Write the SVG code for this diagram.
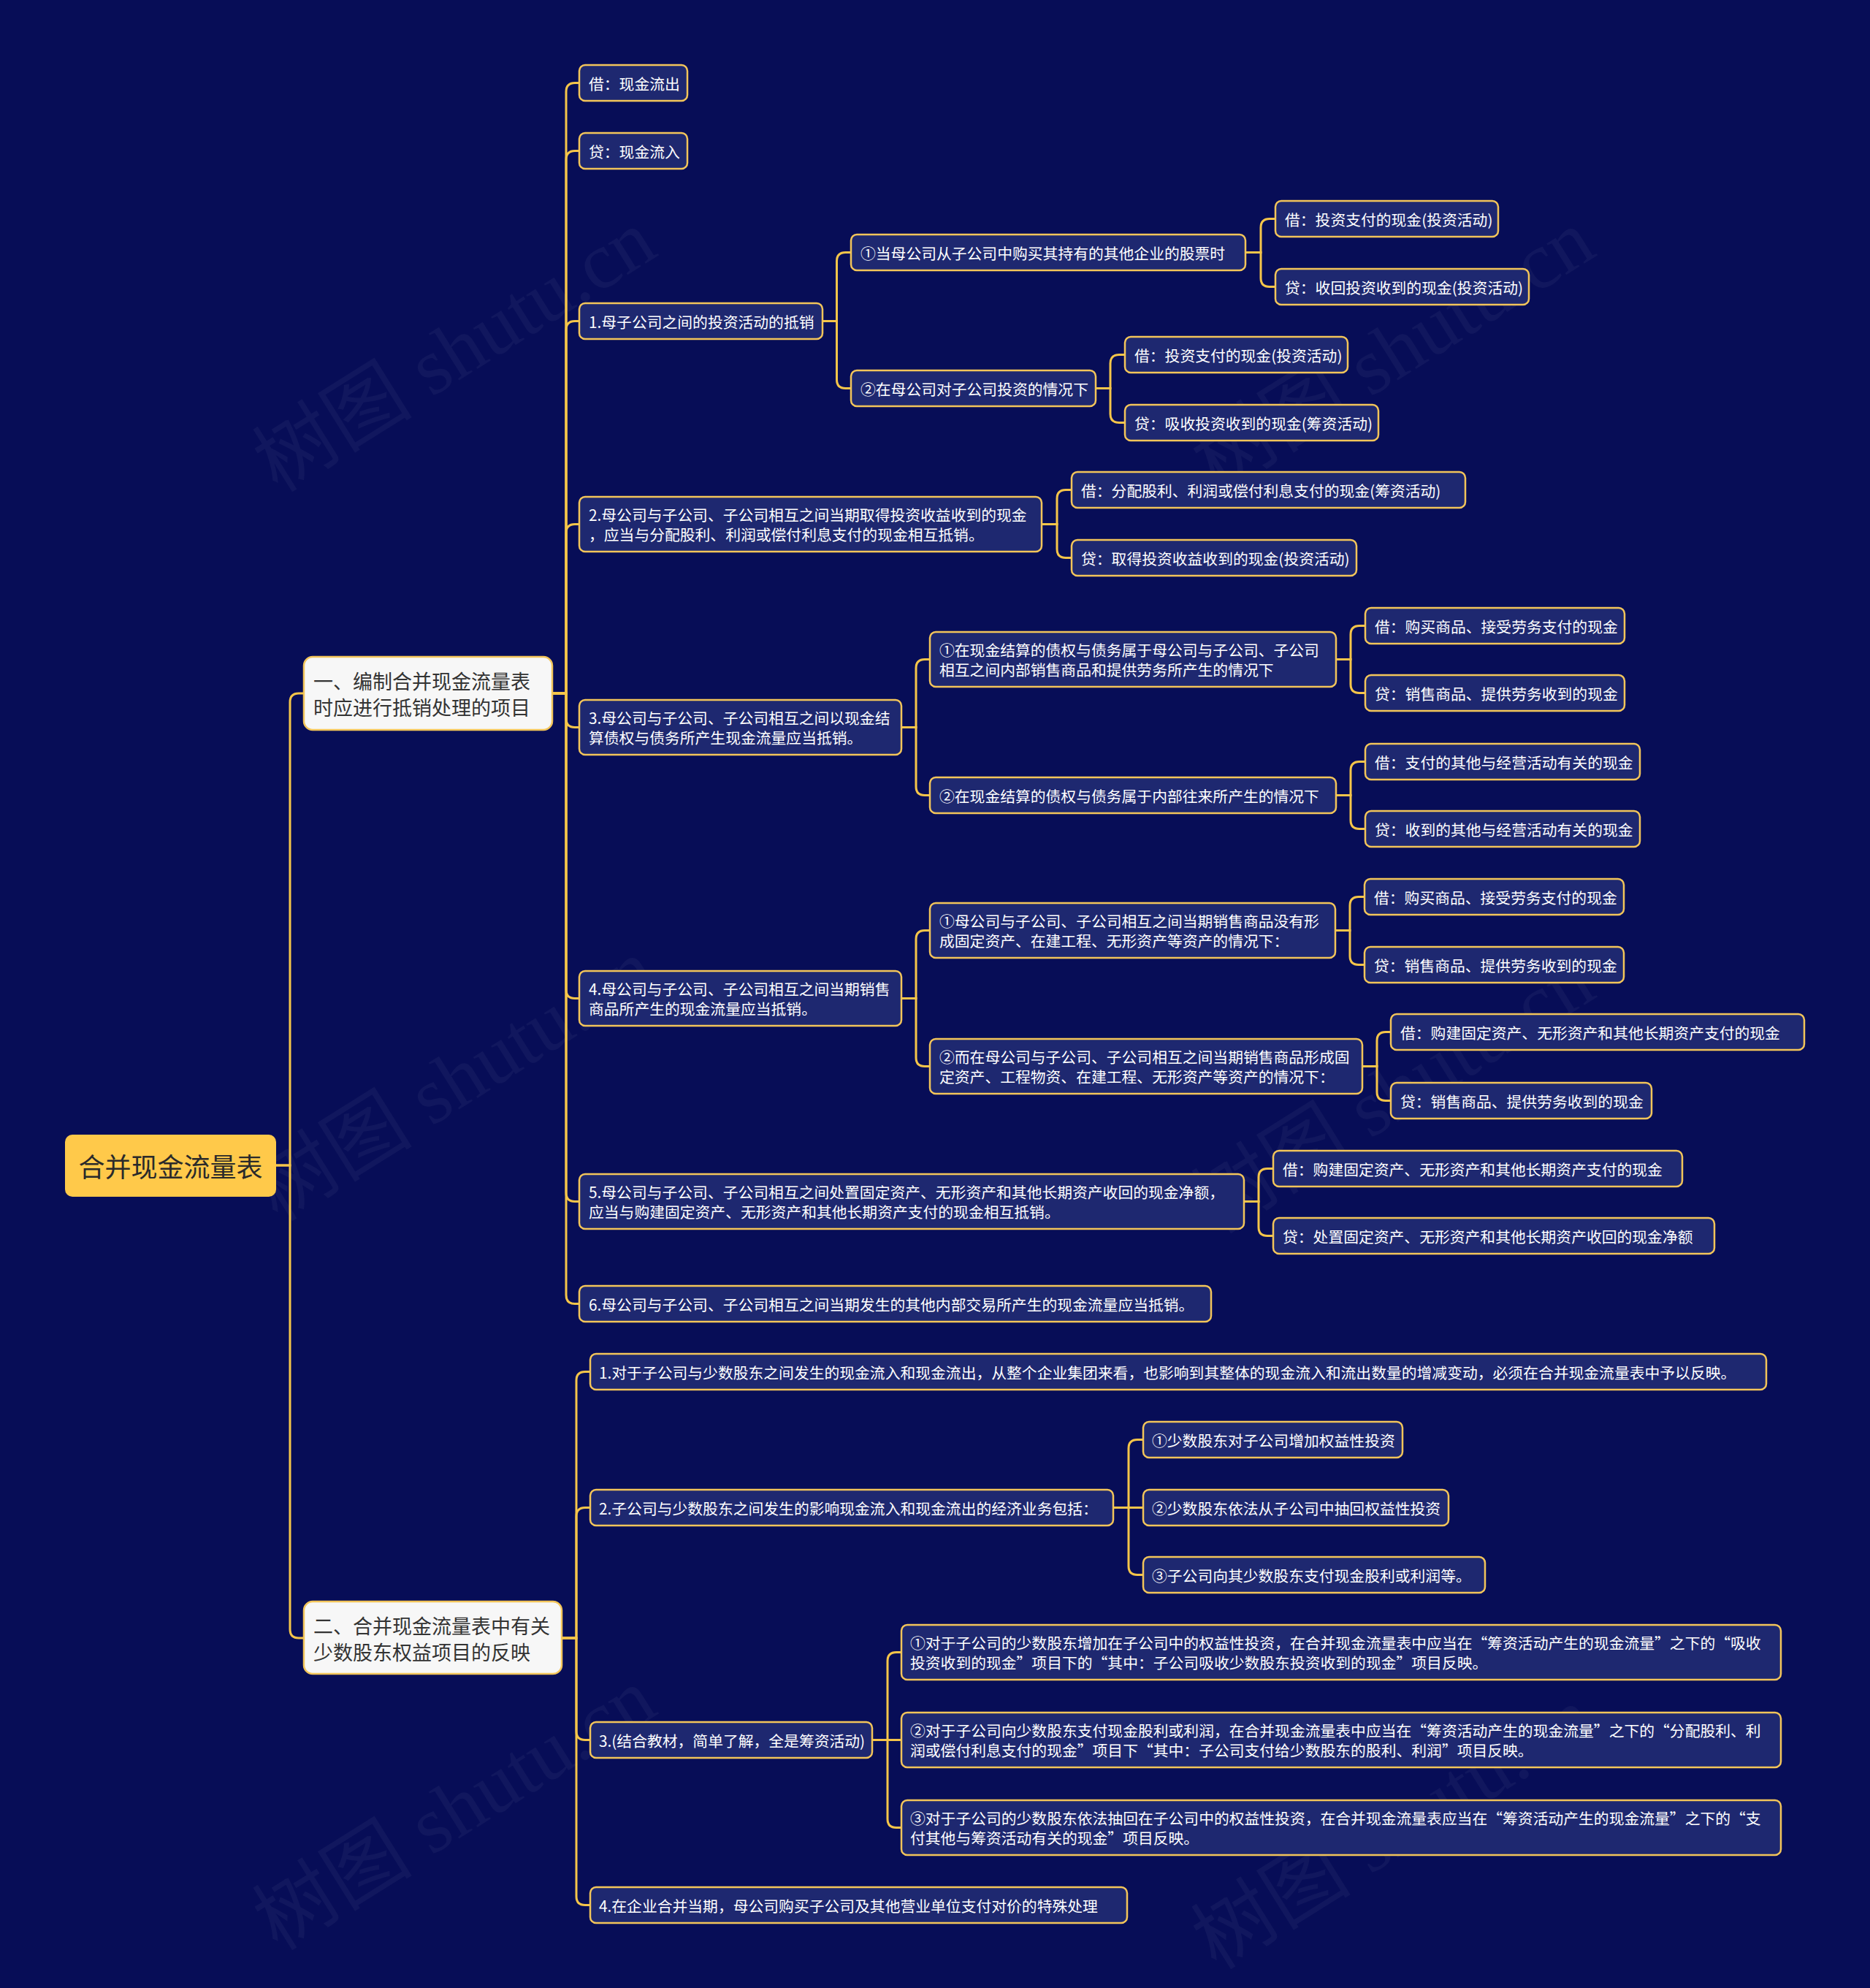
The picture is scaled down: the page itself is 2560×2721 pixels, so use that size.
<svg xmlns="http://www.w3.org/2000/svg" width="2560" height="2721" viewBox="0 0 2560 2721">
<style>
.bg{fill:#070D57}
.wm{font-family:"Liberation Serif","Noto Sans CJK SC",serif;font-size:110px;fill:#ffffff;fill-opacity:0.045}
.n rect{fill:#1E2870;stroke:#F3C55A;stroke-width:2.5}
.n text{font-family:"Noto Sans CJK SC","Microsoft YaHei",sans-serif;font-size:20.8px;fill:#ffffff;dominant-baseline:central}
.l1 rect{fill:#F7F7F7;stroke:#F3C55A;stroke-width:2.5}
.l1 text{font-family:"Noto Sans CJK SC","Microsoft YaHei",sans-serif;font-size:27px;fill:#333333;dominant-baseline:central}
.root rect{fill:#FFC94A}
.root text{font-family:"Noto Sans CJK SC","Microsoft YaHei",sans-serif;font-size:36px;fill:#2A2A2A;dominant-baseline:central;text-anchor:middle}
.c path{fill:none;stroke:#F5C54A;stroke-width:3}
</style>
<rect class="bg" x="0" y="0" width="2560" height="2721"/>
<g id="watermarks">
<text class="wm" transform="translate(642,512) rotate(-32)" text-anchor="middle">树图 shutu.cn</text>
<text class="wm" transform="translate(1927,512) rotate(-32)" text-anchor="middle">树图 shutu.cn</text>
<text class="wm" transform="translate(642,1510) rotate(-32)" text-anchor="middle">树图 shutu.cn</text>
<text class="wm" transform="translate(1927,1527) rotate(-32)" text-anchor="middle">树图 shutu.cn</text>
<text class="wm" transform="translate(642,2508) rotate(-32)" text-anchor="middle">树图 shutu.cn</text>
<text class="wm" transform="translate(1927,2534) rotate(-32)" text-anchor="middle">树图 shutu.cn</text>
</g>
<g id="connectors" class="c">
<path d="M378 1595 H397 V961 Q397 949 409 949 H416"/>
<path d="M378 1595 H397 V2230 Q397 2242 409 2242 H416"/>
<path d="M756 949 H775 V125.5 Q775 113.5 787 113.5 H793"/>
<path d="M756 949 H775 V218.5 Q775 206.5 787 206.5 H793"/>
<path d="M756 949 H775 V451.5 Q775 439.5 787 439.5 H793"/>
<path d="M756 949 H775 V729.5 Q775 717.5 787 717.5 H793"/>
<path d="M756 949 H775 V983.5 Q775 995.5 787 995.5 H793"/>
<path d="M756 949 H775 V1354.5 Q775 1366.5 787 1366.5 H793"/>
<path d="M756 949 H775 V1632.5 Q775 1644.5 787 1644.5 H793"/>
<path d="M756 949 H775 V1772.5 Q775 1784.5 787 1784.5 H793"/>
<path d="M769 2242 H789 V1889.5 Q789 1877.5 801 1877.5 H808"/>
<path d="M769 2242 H789 V2075.5 Q789 2063.5 801 2063.5 H808"/>
<path d="M769 2242 H789 V2369.5 Q789 2381.5 801 2381.5 H808"/>
<path d="M769 2242 H789 V2595.5 Q789 2607.5 801 2607.5 H808"/>
<path d="M1126 439.5 H1145.5 V357.5 Q1145.5 345.5 1157.5 345.5 H1165"/>
<path d="M1126 439.5 H1145.5 V519.5 Q1145.5 531.5 1157.5 531.5 H1165"/>
<path d="M1705 345.5 H1726 V311.5 Q1726 299.5 1738 299.5 H1746"/>
<path d="M1705 345.5 H1726 V380.5 Q1726 392.5 1738 392.5 H1746"/>
<path d="M1500 531.5 H1520 V497.5 Q1520 485.5 1532 485.5 H1540"/>
<path d="M1500 531.5 H1520 V566.5 Q1520 578.5 1532 578.5 H1540"/>
<path d="M1426 717.5 H1447 V682.5 Q1447 670.5 1459 670.5 H1467"/>
<path d="M1426 717.5 H1447 V751.5 Q1447 763.5 1459 763.5 H1467"/>
<path d="M1234 995.5 H1254 V914.5 Q1254 902.5 1266 902.5 H1273"/>
<path d="M1234 995.5 H1254 V1076.5 Q1254 1088.5 1266 1088.5 H1273"/>
<path d="M1829 902.5 H1849 V868.5 Q1849 856.5 1861 856.5 H1869"/>
<path d="M1829 902.5 H1849 V936.5 Q1849 948.5 1861 948.5 H1869"/>
<path d="M1829 1088.5 H1849 V1054.5 Q1849 1042.5 1861 1042.5 H1869"/>
<path d="M1829 1088.5 H1849 V1122.5 Q1849 1134.5 1861 1134.5 H1869"/>
<path d="M1234 1366.5 H1254 V1285.5 Q1254 1273.5 1266 1273.5 H1273"/>
<path d="M1234 1366.5 H1254 V1447.5 Q1254 1459.5 1266 1459.5 H1273"/>
<path d="M1828 1273.5 H1848 V1239.5 Q1848 1227.5 1860 1227.5 H1868"/>
<path d="M1828 1273.5 H1848 V1308.5 Q1848 1320.5 1860 1320.5 H1868"/>
<path d="M1865 1459.5 H1885 V1424.5 Q1885 1412.5 1897 1412.5 H1904"/>
<path d="M1865 1459.5 H1885 V1494.5 Q1885 1506.5 1897 1506.5 H1904"/>
<path d="M1703 1644.5 H1723 V1611.5 Q1723 1599.5 1735 1599.5 H1743"/>
<path d="M1703 1644.5 H1723 V1679.5 Q1723 1691.5 1735 1691.5 H1743"/>
<path d="M1524 2063.5 H1545 V1982.5 Q1545 1970.5 1557 1970.5 H1565"/>
<path d="M1524 2063.5 H1565"/>
<path d="M1524 2063.5 H1545 V2143.5 Q1545 2155.5 1557 2155.5 H1565"/>
<path d="M1194 2381.5 H1215 V2273.5 Q1215 2261.5 1227 2261.5 H1234"/>
<path d="M1194 2381.5 H1234"/>
<path d="M1194 2381.5 H1215 V2489.5 Q1215 2501.5 1227 2501.5 H1234"/>
</g>
<g id="root" class="root"><rect x="89" y="1553" width="289" height="85" rx="10"/><text x="233.5" y="1595">合并现金流量表</text></g>
<g id="node1" class="l1"><rect x="416" y="899" width="340" height="100" rx="12"/><text x="429" y="931">一、编制合并现金流量表</text><text x="429" y="967">时应进行抵销处理的项目</text></g>
<g id="node2" class="l1"><rect x="416" y="2192" width="353" height="99" rx="12"/><text x="429" y="2224">二、合并现金流量表中有关</text><text x="429" y="2260">少数股东权益项目的反映</text></g>

<g id="n1a" class="n"><rect x="793" y="89" width="148" height="49" rx="8"/><text x="806" y="113.5">借：现金流出</text></g>
<g id="n1b" class="n"><rect x="793" y="182" width="148" height="49" rx="8"/><text x="806" y="206.5">贷：现金流入</text></g>
<g id="n1c" class="n"><rect x="793" y="415" width="333" height="49" rx="8"/><text x="806" y="439.5">1.母子公司之间的投资活动的抵销</text></g>
<g id="n1d" class="n"><rect x="793" y="680" width="633" height="75" rx="8"/><text x="806" y="704">2.母公司与子公司、子公司相互之间当期取得投资收益收到的现金</text><text x="806" y="731">，应当与分配股利、利润或偿付利息支付的现金相互抵销。</text></g>
<g id="n1e" class="n"><rect x="793" y="958" width="441" height="75" rx="8"/><text x="806" y="982">3.母公司与子公司、子公司相互之间以现金结</text><text x="806" y="1009">算债权与债务所产生现金流量应当抵销。</text></g>
<g id="n1f" class="n"><rect x="793" y="1329" width="441" height="75" rx="8"/><text x="806" y="1353">4.母公司与子公司、子公司相互之间当期销售</text><text x="806" y="1380">商品所产生的现金流量应当抵销。</text></g>
<g id="n1g" class="n"><rect x="793" y="1607" width="910" height="75" rx="8"/><text x="806" y="1631">5.母公司与子公司、子公司相互之间处置固定资产、无形资产和其他长期资产收回的现金净额，</text><text x="806" y="1658">应当与购建固定资产、无形资产和其他长期资产支付的现金相互抵销。</text></g>
<g id="n1h" class="n"><rect x="793" y="1760" width="865" height="49" rx="8"/><text x="806" y="1784.5">6.母公司与子公司、子公司相互之间当期发生的其他内部交易所产生的现金流量应当抵销。</text></g>

<g id="c1" class="n"><rect x="1165" y="321" width="540" height="49" rx="8"/><text x="1178" y="345.5">①当母公司从子公司中购买其持有的其他企业的股票时</text></g>
<g id="c2" class="n"><rect x="1165" y="507" width="335" height="49" rx="8"/><text x="1178" y="531.5">②在母公司对子公司投资的情况下</text></g>
<g id="c1a" class="n"><rect x="1746" y="275" width="305" height="49" rx="8"/><text x="1759" y="299.5">借：投资支付的现金(投资活动)</text></g>
<g id="c1b" class="n"><rect x="1746" y="368" width="347" height="49" rx="8"/><text x="1759" y="392.5">贷：收回投资收到的现金(投资活动)</text></g>
<g id="c2a" class="n"><rect x="1540" y="461" width="305" height="49" rx="8"/><text x="1553" y="485.5">借：投资支付的现金(投资活动)</text></g>
<g id="c2b" class="n"><rect x="1540" y="554" width="347" height="49" rx="8"/><text x="1553" y="578.5">贷：吸收投资收到的现金(筹资活动)</text></g>
<g id="d1" class="n"><rect x="1467" y="646" width="539" height="49" rx="8"/><text x="1480" y="670.5">借：分配股利、利润或偿付利息支付的现金(筹资活动)</text></g>
<g id="d2" class="n"><rect x="1467" y="739" width="390" height="49" rx="8"/><text x="1480" y="763.5">贷：取得投资收益收到的现金(投资活动)</text></g>
<g id="e1" class="n"><rect x="1273" y="865" width="556" height="75" rx="8"/><text x="1286" y="889">①在现金结算的债权与债务属于母公司与子公司、子公司</text><text x="1286" y="916">相互之间内部销售商品和提供劳务所产生的情况下</text></g>
<g id="e2" class="n"><rect x="1273" y="1064" width="556" height="49" rx="8"/><text x="1286" y="1088.5">②在现金结算的债权与债务属于内部往来所产生的情况下</text></g>
<g id="e1a" class="n"><rect x="1869" y="832" width="355" height="49" rx="8"/><text x="1882" y="856.5">借：购买商品、接受劳务支付的现金</text></g>
<g id="e1b" class="n"><rect x="1869" y="924" width="355" height="49" rx="8"/><text x="1882" y="948.5">贷：销售商品、提供劳务收到的现金</text></g>
<g id="e2a" class="n"><rect x="1869" y="1018" width="376" height="49" rx="8"/><text x="1882" y="1042.5">借：支付的其他与经营活动有关的现金</text></g>
<g id="e2b" class="n"><rect x="1869" y="1110" width="376" height="49" rx="8"/><text x="1882" y="1134.5">贷：收到的其他与经营活动有关的现金</text></g>
<g id="f1" class="n"><rect x="1273" y="1236" width="555" height="75" rx="8"/><text x="1286" y="1260">①母公司与子公司、子公司相互之间当期销售商品没有形</text><text x="1286" y="1287">成固定资产、在建工程、无形资产等资产的情况下：</text></g>
<g id="f2" class="n"><rect x="1273" y="1422" width="592" height="75" rx="8"/><text x="1286" y="1446">②而在母公司与子公司、子公司相互之间当期销售商品形成固</text><text x="1286" y="1473">定资产、工程物资、在建工程、无形资产等资产的情况下：</text></g>
<g id="f1a" class="n"><rect x="1868" y="1203" width="355" height="49" rx="8"/><text x="1881" y="1227.5">借：购买商品、接受劳务支付的现金</text></g>
<g id="f1b" class="n"><rect x="1868" y="1296" width="355" height="49" rx="8"/><text x="1881" y="1320.5">贷：销售商品、提供劳务收到的现金</text></g>
<g id="f2a" class="n"><rect x="1904" y="1388" width="566" height="49" rx="8"/><text x="1917" y="1412.5">借：购建固定资产、无形资产和其他长期资产支付的现金</text></g>
<g id="f2b" class="n"><rect x="1904" y="1482" width="357" height="49" rx="8"/><text x="1917" y="1506.5">贷：销售商品、提供劳务收到的现金</text></g>
<g id="g1" class="n"><rect x="1743" y="1575" width="560" height="49" rx="8"/><text x="1756" y="1599.5">借：购建固定资产、无形资产和其他长期资产支付的现金</text></g>
<g id="g2" class="n"><rect x="1743" y="1667" width="604" height="49" rx="8"/><text x="1756" y="1691.5">贷：处置固定资产、无形资产和其他长期资产收回的现金净额</text></g>

<g id="m1" class="n"><rect x="808" y="1853" width="1610" height="49" rx="8"/><text x="820" y="1877.5">1.对于子公司与少数股东之间发生的现金流入和现金流出，从整个企业集团来看，也影响到其整体的现金流入和流出数量的增减变动，必须在合并现金流量表中予以反映。</text></g>
<g id="m2" class="n"><rect x="808" y="2039" width="716" height="49" rx="8"/><text x="820" y="2063.5">2.子公司与少数股东之间发生的影响现金流入和现金流出的经济业务包括：</text></g>
<g id="m3" class="n"><rect x="808" y="2357" width="386" height="49" rx="8"/><text x="820" y="2381.5">3.(结合教材，简单了解，全是筹资活动)</text></g>
<g id="m4" class="n"><rect x="808" y="2583" width="735" height="49" rx="8"/><text x="820" y="2607.5">4.在企业合并当期，母公司购买子公司及其他营业单位支付对价的特殊处理</text></g>
<g id="m2a" class="n"><rect x="1565" y="1946" width="355" height="49" rx="8"/><text x="1577" y="1970.5">①少数股东对子公司增加权益性投资</text></g>
<g id="m2b" class="n"><rect x="1565" y="2039" width="418" height="49" rx="8"/><text x="1577" y="2063.5">②少数股东依法从子公司中抽回权益性投资</text></g>
<g id="m2c" class="n"><rect x="1565" y="2131" width="468" height="49" rx="8"/><text x="1577" y="2155.5">③子公司向其少数股东支付现金股利或利润等。</text></g>
<g id="m3a" class="n"><rect x="1234" y="2224" width="1204" height="75" rx="8"/><text x="1246" y="2248">①对于子公司的少数股东增加在子公司中的权益性投资，在合并现金流量表中应当在“筹资活动产生的现金流量”之下的“吸收</text><text x="1246" y="2275">投资收到的现金”项目下的“其中：子公司吸收少数股东投资收到的现金”项目反映。</text></g>
<g id="m3b" class="n"><rect x="1234" y="2344" width="1204" height="75" rx="8"/><text x="1246" y="2368">②对于子公司向少数股东支付现金股利或利润，在合并现金流量表中应当在“筹资活动产生的现金流量”之下的“分配股利、利</text><text x="1246" y="2395">润或偿付利息支付的现金”项目下“其中：子公司支付给少数股东的股利、利润”项目反映。</text></g>
<g id="m3c" class="n"><rect x="1234" y="2464" width="1204" height="75" rx="8"/><text x="1246" y="2488">③对于子公司的少数股东依法抽回在子公司中的权益性投资，在合并现金流量表应当在“筹资活动产生的现金流量”之下的“支</text><text x="1246" y="2515">付其他与筹资活动有关的现金”项目反映。</text></g>
</svg>
